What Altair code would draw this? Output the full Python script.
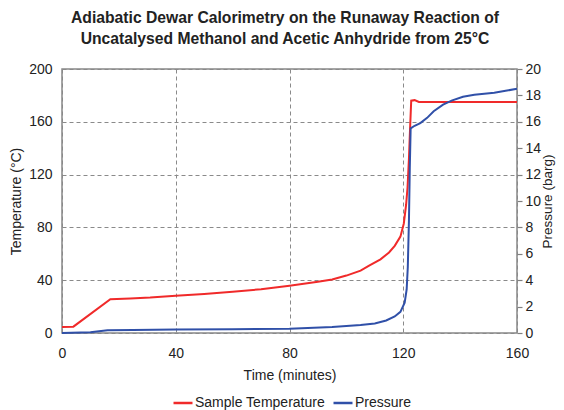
import altair as alt
import pandas as pd

# ---- data ----
temp_time = [0, 4, 17, 24, 31, 40, 50, 60, 70, 80, 90, 95, 100, 105, 108, 112,
             115, 117, 119, 120.2, 121, 121.5, 122, 122.4, 122.8, 124, 125.5, 140, 160]
temp_vals = [4.6, 4.8, 25.6, 26.2, 26.9, 28.3, 29.6, 31.2, 33.2, 35.8, 38.8, 40.6, 43.5,
             47.2, 51.0, 55.8, 61.0, 66.0, 73.0, 83.0, 97.0, 110.0, 132.0, 155.0, 176.0,
             176.4, 175.0, 175.0, 175.0]

press_time = [0, 10, 16, 25, 40, 60, 80, 95, 105, 110, 114, 117, 119, 120.5, 121.2,
              121.6, 122.0, 122.3, 122.6, 124, 126, 128.4, 130.7, 134, 137, 141, 145,
              152, 156, 160]
press_vals = [0.0, 0.05, 0.2, 0.22, 0.26, 0.29, 0.33, 0.45, 0.6, 0.72, 0.95, 1.25, 1.6,
              2.3, 3.3, 5.0, 8.5, 12.5, 15.5, 15.7, 15.9, 16.3, 16.8, 17.3, 17.6, 17.9,
              18.05, 18.2, 18.35, 18.5]

series_names = ["Sample Temperature", "Pressure"]
series_colors = ["#f02a2a", "#3050a8"]

x_ticks = [0, 40, 80, 120, 160]
temp_ticks = [0, 40, 80, 120, 160, 200]
press_ticks = [0, 2, 4, 6, 8, 10, 12, 14, 16, 18, 20]

title_lines = ["Adiabatic Dewar Calorimetry on the Runaway Reaction of",
               "Uncatalysed Methanol and Acetic Anhydride from 25°C"]

df_t = pd.DataFrame({"t": temp_time, "v": temp_vals, "series": series_names[0]})
df_p = pd.DataFrame({"t": press_time, "v": press_vals, "series": series_names[1]})

FONT = "Liberation Sans"
TXT = "#222222"
FS = 14

color = alt.Color(
    "series:N",
    scale=alt.Scale(domain=series_names, range=series_colors),
    legend=alt.Legend(
        title=None, orient="none", direction="horizontal",
        legendX=110, legendY=323, symbolType="stroke", symbolStrokeWidth=2.5,
        symbolSize=361, labelFontSize=FS, labelColor=TXT, labelFont=FONT,
        labelOffset=1, columnPadding=3, padding=0,
    ),
)

x = alt.X(
    "t:Q",
    scale=alt.Scale(domain=[0, 160], nice=False),
    axis=alt.Axis(
        values=x_ticks, title="Time (minutes)", grid=True, gridDash=[4, 3],
        gridColor="#8a8a8a", gridWidth=1, ticks=False, domain=False,
        labelFlush=False, labelPadding=13, titlePadding=8, labelFontSize=FS,
        titleFontSize=FS, titleFontWeight="normal", labelColor=TXT, titleColor=TXT,
    ),
)

temp_line = alt.Chart(df_t).mark_line(strokeWidth=2).encode(
    x=x,
    y=alt.Y(
        "v:Q",
        scale=alt.Scale(domain=[0, 200], nice=False),
        axis=alt.Axis(
            values=temp_ticks, title="Temperature (°C)", grid=True, gridDash=[4, 3],
            gridColor="#8a8a8a", gridWidth=1, ticks=False, domain=False,
            labelPadding=10, titlePadding=5, labelFontSize=FS, titleFontSize=FS,
            titleFontWeight="normal", labelColor=TXT, titleColor=TXT,
        ),
    ),
    color=color,
)

press_line = alt.Chart(df_p).mark_line(strokeWidth=2).encode(
    x=x,
    y=alt.Y(
        "v:Q",
        scale=alt.Scale(domain=[0, 20], nice=False),
        axis=alt.Axis(
            orient="right", values=press_ticks, title="Pressure (barg)", grid=False,
            ticks=True, tickSize=5, tickColor="#808080", tickWidth=1.2, domain=False,
            labelPadding=3, titlePadding=0, titleAngle=270, titleBaseline="top",
            labelFontSize=FS, titleFontSize=13.5, titleFontWeight="normal",
            labelColor=TXT, titleColor=TXT,
        ),
    ),
    color=color,
)

chart = (
    alt.layer(temp_line, press_line)
    .resolve_scale(y="independent")
    .properties(
        width=455,
        height=264,
        autosize=alt.AutoSizeParams(type="none"),
        padding={"left": 54, "top": 61, "right": 39, "bottom": 77},
        title=alt.TitleParams(
            text=title_lines, fontSize=15.7, fontWeight="bold", anchor="middle",
            frame="group", dx=-4.5, offset=14, lineHeight=21, color=TXT, font=FONT,
        ),
    )
    .configure(font=FONT)
    .configure_view(stroke="#888888", strokeWidth=1.5)
)

chart.save("out.html", embed_options={"renderer": "svg", "actions": False})
